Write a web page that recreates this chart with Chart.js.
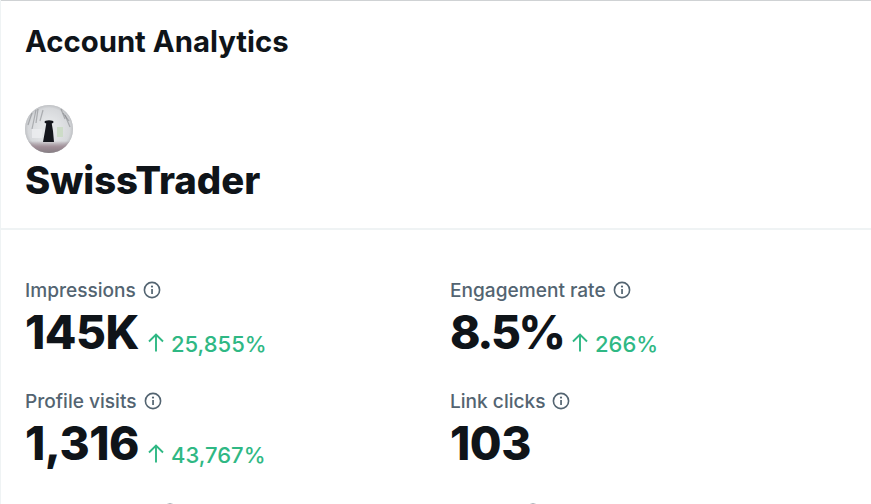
<!DOCTYPE html>
<html><head><meta charset="utf-8">
<script src="https://cdn.jsdelivr.net/npm/chart.js@4"></script>
<style>
html,body{margin:0;padding:0;background:#fff;width:871px;height:504px;overflow:hidden;font-family:Inter,"Noto Sans",sans-serif;color:#0f1419}
.abs{position:absolute;white-space:nowrap;line-height:1}
#top{position:absolute;left:0;top:0;width:871px;height:1px;background:#cfd2d4}
#left{position:absolute;left:0;top:0;width:1px;height:504px;background:#eff3f4}
#div{position:absolute;left:0;top:228px;width:871px;height:2px;background:#eff3f4}
#av{position:absolute;left:25px;top:105px;width:48px;height:48px}
.lab{font-size:19.1px;font-weight:500;color:#536471}
.val{font-size:46px;font-weight:800;color:#0f1419;letter-spacing:-.5px}
.val.pct{letter-spacing:-2.4px}
.chg{font-size:22px;font-weight:500;color:#2fb884}
svg{position:absolute}
</style></head><body>
<div id="top"></div><div id="left"></div><div id="div"></div>
<div class="abs" style="left:25px;top:27px;font-size:29.3px;font-weight:700" id="title"></div>
<div id="av"><canvas id="c" width="48" height="48"></canvas></div>
<div class="abs" style="left:25px;top:161px;font-size:38.3px;font-weight:800" id="name"></div>
<div id="cards"></div>
<script>
const pageTitle = "Account Analytics";
const accountName = "SwissTrader";
const metricLabels = ["Impressions","Engagement rate","Profile visits","Link clicks"];
const metricValues = ["145K","8.5%","1,316","103"];
const metricChanges = ["25,855%","266%","43,767%",null];
const avatarTones = [1];

document.getElementById('title').textContent = pageTitle;
document.getElementById('name').textContent = accountName;

const colX = [25,450], rowY = [279,390];
const info = '<circle cx="9" cy="9" r="7.6" fill="none" stroke="#536471" stroke-width="1.6"/><rect x="8.2" y="8" width="1.7" height="5" fill="#536471"/><circle cx="9" cy="5.6" r="1.1" fill="#536471"/>';
const arrow = '<path d="M9 18.5V1.5M2 8.5L9 1.5L16 8.5" fill="none" stroke="#2fb884" stroke-width="1.9"/>';
const cards = document.getElementById('cards');
function addInfo(w,x,y){
  const s = document.createElementNS('http://www.w3.org/2000/svg','svg');
  s.setAttribute('width',18);s.setAttribute('height',18);s.innerHTML=info;
  s.style.left=x+'px';s.style.top=y+'px';
  w.appendChild(s);
}
metricLabels.forEach((l,i)=>{
  const x = colX[i%2], y = rowY[i>>1];
  const w = document.createElement('div');
  const pct = metricValues[i].includes('%') ? ' pct' : '';
  w.innerHTML = `<div class="abs lab" style="left:${x}px;top:${y+2}px">${l}</div>
  <div class="abs val${pct}" style="left:${x}px;top:${y+30}px">${metricValues[i]}</div>`;
  cards.appendChild(w);
  const lab = w.querySelector('.lab'), val = w.querySelector('.val');
  addInfo(w,x+lab.offsetWidth+7,y+2);
  if(metricChanges[i]){
    const ax = x+val.offsetWidth+9;
    const a = document.createElementNS('http://www.w3.org/2000/svg','svg');
    a.setAttribute('width',18);a.setAttribute('height',19);a.innerHTML=arrow;
    a.style.left=(ax-1)+'px';a.style.top=(y+54)+'px';
    w.appendChild(a);
    const c=document.createElement('div');c.className='abs chg';c.textContent=metricChanges[i];
    c.style.left=(ax+23)+'px';c.style.top=(y+54)+'px';
    w.appendChild(c);
  }
});
// tops of the next row's info icons, cut off by the bottom edge
addInfo(cards,161,503);addInfo(cards,524,503);

const avatarArt = {
  id:'avatarArt',
  afterDatasetsDraw(ch){
    const g=ch.ctx, a=ch.getDatasetMeta(0).data[0];
    const cx=a.x, cy=a.y, r=a.outerRadius;
    g.save();g.beginPath();g.arc(cx,cy,r,0,Math.PI*2);g.clip();
    const gr=g.createRadialGradient(cx,cy,8,cx,cy,r);
    gr.addColorStop(0,'#e4e6e8');gr.addColorStop(.8,'#d6d8db');gr.addColorStop(1,'#bfc1c4');
    g.fillStyle=gr;g.fillRect(cx-r,cy-r,2*r,2*r);
    const bot=g.createLinearGradient(0,cy+12,0,cy+r);
    bot.addColorStop(0,'rgba(140,120,130,0)');bot.addColorStop(.5,'#a08e97');bot.addColorStop(1,'#857d82');
    g.fillStyle=bot;g.fillRect(cx-r,cy+12,2*r,r);
    g.strokeStyle='rgba(110,114,118,.45)';g.lineWidth=1.2;
    [[-21,-4,-17,-16],[-17,0,-13,-19],[-13,-6,-11,-20],[-9,-8,-6,-19],[21,-2,16,-14],[16,-10,12,-20],[20,-8,14,-16]].forEach(p=>{
      g.beginPath();g.moveTo(cx+p[0],cy+p[1]);g.lineTo(cx+p[2],cy+p[3]);g.stroke();
    });
    g.fillStyle='rgba(236,238,240,.8)';g.fillRect(cx-17,cy,10,9);
    g.fillStyle='#cddcc8';g.fillRect(cx+8,cy-2,6,10);
    g.fillStyle='#14161c';
    g.beginPath();g.ellipse(cx,cy-7,4.5,1.8,0,0,7);g.fill();
    g.beginPath();g.moveTo(cx-2.5,cy-7);g.lineTo(cx+2.5,cy-7);g.lineTo(cx+4,cy+2);g.lineTo(cx+5,cy+13);g.lineTo(cx-6,cy+13);g.lineTo(cx-4,cy+2);g.closePath();g.fill();
    g.restore();
  }
};
new Chart(document.getElementById('c'),{
  type:'pie',
  data:{labels:[accountName],datasets:[{data:avatarTones,backgroundColor:'#d8dadd',borderWidth:0}]},
  options:{responsive:false,animation:false,layout:{padding:0},plugins:{legend:{display:false},tooltip:{enabled:false}}},
  plugins:[avatarArt]
});
</script>
</body></html>
